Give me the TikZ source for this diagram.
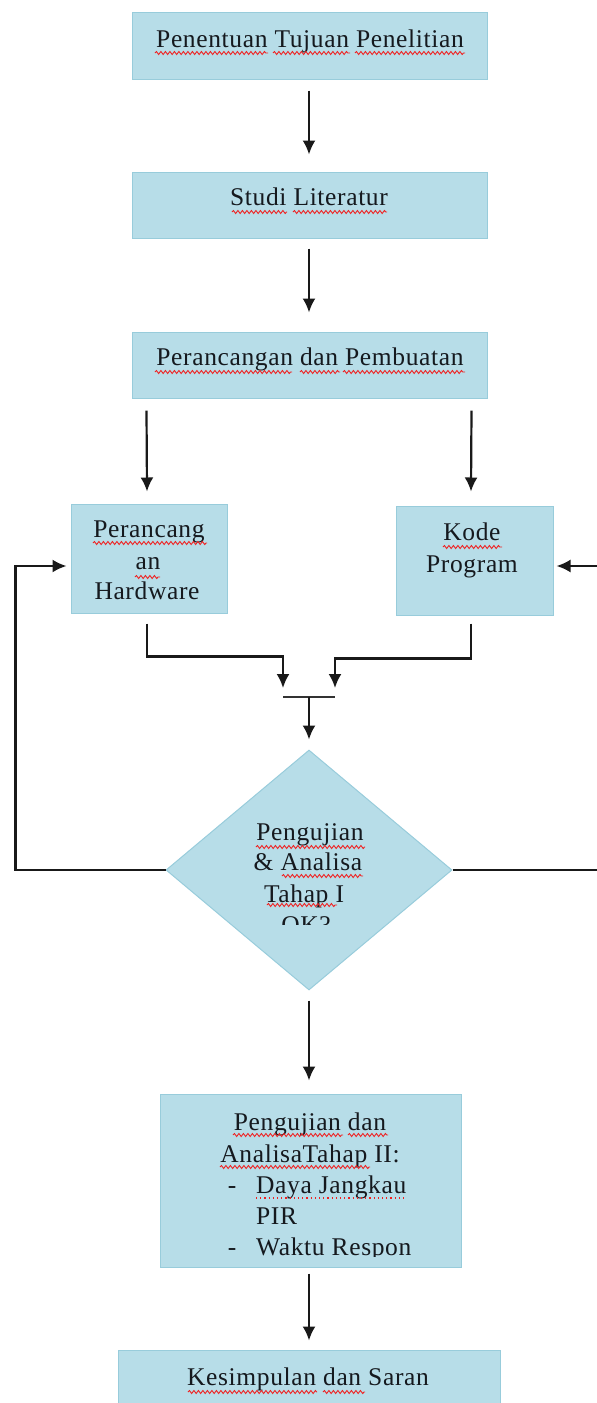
\documentclass[tikz,border=0pt]{standalone}
\usepackage{fontspec}
\setmainfont{Liberation Serif}[LetterSpace=2.5]
\usetikzlibrary{shapes.geometric,arrows.meta,calc,decorations.pathmorphing}
\definecolor{boxfill}{HTML}{B7DDE8}
\definecolor{boxline}{HTML}{98CCDB}
\definecolor{txt}{HTML}{15191E}
\definecolor{squig}{HTML}{F02020}
\tikzset{
  box/.style={draw=boxline, fill=boxfill, line width=1pt, inner sep=0pt},
  decision/.style={diamond, draw=boxline, fill=boxfill, line width=1pt, inner sep=0pt},
  arr/.style={-{Latex[length=14pt,width=13pt]}, line width=2.2pt, draw=black!90},
  line/.style={line width=2.2pt, draw=black!80},
  lbl/.style={anchor=base, inner sep=0pt, text=txt, font=\fontsize{25.5}{31}\selectfont},
  lblw/.style={anchor=base west, inner sep=0pt, text=txt, font=\fontsize{25.5}{31}\selectfont},
  sq/.style={draw=squig, line width=0.9pt, decorate, decoration={snake, amplitude=1.5pt, segment length=4.5pt}},
  sqdot/.style={draw=squig, line width=1.3pt, dash pattern=on 1.2pt off 3pt}
}
\begin{document}
\begin{tikzpicture}[x=1pt,y=-1pt]
\useasboundingbox (0,0) rectangle (597,1403);

% boxes
\node[box, minimum width=355pt, minimum height=67pt] (b1) at (309.5,45.5) {};
\node[box, minimum width=355pt, minimum height=66pt] (b2) at (309.5,205) {};
\node[box, minimum width=355pt, minimum height=66pt] (b3) at (309.5,365) {};
\node[box, minimum width=156pt, minimum height=109pt] (b4) at (149,558.5) {};
\node[box, minimum width=157pt, minimum height=109pt] (b5) at (474.5,560.5) {};
\node[decision, minimum width=286pt, minimum height=240pt] (d) at (309,870) {};
\node[box, minimum width=301pt, minimum height=173pt] (b6) at (310.5,1180.5) {};
\node[box, minimum width=382pt, minimum height=90pt] (b7) at (309,1395) {};

% texts
\node[lbl] (t1) at (310,47) {Penentuan Tujuan Penelitian};
\node[lbl] (t2) at (309,205) {Studi Literatur};
\node[lbl] (t3) at (310,365) {Perancangan dan Pembuatan};
\node[lbl] (t4a) at (149,537) {Perancang};
\node[lbl] (t4b) at (148,569) {an};
\node[lbl] (t4c) at (147,599) {Hardware};
\node[lbl] (t5a) at (472,540) {Kode};
\node[lbl] (t5b) at (472,572) {Program};
\node[lbl] (td1) at (310,840) {Pengujian};
\node[lbl] (td2) at (308,870) {\& Analisa};
\node[lbl] (td3) at (304,902) {Tahap I};
\begin{scope}
  \clip (0,0) rectangle (597,924);
  \node[lbl] (td4) at (306,933) {OK?};
\end{scope}
\node[lbl] (t6a) at (310,1130) {Pengujian dan};
\node[lbl] (t6b) at (310,1162) {AnalisaTahap II:};
\node[lbl] (t6c) at (232,1193) {-};
\node[lblw] (t6d) at (256,1193) {Daya Jangkau};
\node[lblw] (t6e) at (256,1224) {PIR};
\begin{scope}
  \clip (0,0) rectangle (597,1256);
  \node[lbl] (t6f) at (232,1255) {-};
  \node[lblw] (t6g) at (256,1255) {Waktu Respon};
\end{scope}
\node[lbl] (t7) at (308,1385) {Kesimpulan dan Saran};

% spell-check squiggles
\draw[sq] (155,53) -- (268,53);
\draw[sq] (273,53) -- (350,53);
\draw[sq] (355,53) -- (465,53);
\draw[sq] (232,212) -- (287,212);
\draw[sq] (293,212) -- (387,212);
\draw[sq] (155,372) -- (292,372);
\draw[sq] (300,372) -- (340,372);
\draw[sq] (343,372) -- (465,372);
\draw[sq] (93,543) -- (207,543);
\draw[sq] (135,577) -- (160,577);
\draw[sq] (443,547) -- (502,547);
\draw[sq] (256,847) -- (365,847);
\draw[sq] (282,876) -- (363,876);
\draw[sq] (267,905) -- (337,905);
\draw[sq] (233,1135) -- (343,1135);
\draw[sq] (348,1135) -- (388,1135);
\draw[sq] (220,1167) -- (370,1167);
\draw[sqdot] (256,1198) -- (407,1198);
\draw[sq] (188,1392) -- (317,1392);
\draw[sq] (323,1392) -- (365,1392);

% connectors
\draw[arr] ($(b1.south)+(-0.5,11)$) -- ($(b2.north)+(-0.5,-17)$);
\draw[arr] ($(b2.south)+(-0.5,10)$) -- ($(b3.north)+(-0.5,-19)$);
\draw[arr] ($(b3.south west)+(15,12)$) -- ($(b4.north)+(-2,-12)$);
\draw[arr] ($(b3.south east)+(-16,12)$) -- ($(b5.north)+(-3.5,-14)$);

\coordinate (bar) at (309,697);
\draw[line] ($(bar)+(-26,0)$) -- ($(bar)+(26,0)$);
\draw[arr] ($(b4.south)+(-2,10)$) -- ++(0,33) -| ($(bar)+(-26,-9)$);
\draw[arr] ($(b5.south)+(-3.5,8)$) -- ++(0,35) -| ($(bar)+(26,-9)$);
\draw[arr] (bar) -- ($(d.north)+(0,-10)$);

\draw[arr] (d.west) -- ++(-150,0) |- ($(b4.west)+(-4,7.5)$);
\draw[arr] (d.east) -- ++(170,0) |- ($(b5.east)+(3,5.5)$);

\draw[arr] ($(d.south)+(0,10)$) -- ($(b6.north)+(-1.5,-13)$);
\draw[arr] ($(b6.south)+(-1.5,6)$) -- ($(b7.north)+(0,-9)$);
\end{tikzpicture}
\end{document}
